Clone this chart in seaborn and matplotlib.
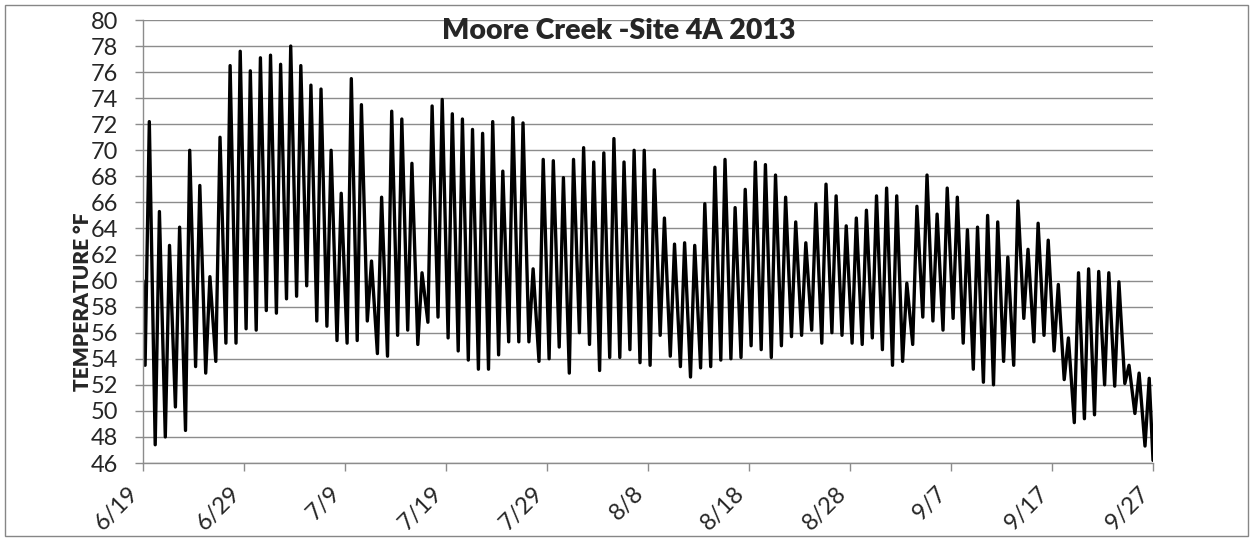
from __future__ import annotations

import matplotlib

matplotlib.use("Agg")

import matplotlib.pyplot as plt
import pandas as pd
import seaborn as sns
from matplotlib.patches import Rectangle

# Daily water temperature (deg F), Moore Creek site 4A, 6/19 - 9/26 2013
first_day = "2013-06-19"
start_temp = 60.0
end_temp = 46.2

daily_low = [
    53.5, 47.4, 48.0, 50.3, 48.5, 53.4, 52.9, 53.8, 55.2, 55.2,
    56.3, 56.2, 57.7, 57.5, 58.6, 58.8, 59.6, 56.9, 56.5, 55.4,
    55.2, 55.4, 56.9, 54.4, 54.2, 55.8, 56.2, 55.1, 56.8, 57.2,
    55.6, 54.6, 53.9, 53.2, 53.2, 54.3, 55.3, 55.3, 55.3, 53.8,
    54.0, 54.9, 52.9, 56.0, 55.1, 53.1, 54.1, 54.1, 54.7, 53.7,
    53.5, 55.8, 54.2, 53.4, 52.6, 53.3, 53.4, 53.9, 54.0, 54.1,
    55.0, 54.7, 54.1, 55.0, 55.7, 55.8, 56.2, 55.2, 56.0, 55.8,
    55.2, 55.1, 55.6, 54.7, 53.5, 53.8, 55.1, 57.2, 56.9, 56.2,
    57.1, 55.2, 53.2, 52.2, 52.0, 53.8, 53.5, 57.1, 55.3, 55.8,
    54.6, 52.4, 49.1, 49.4, 49.7, 52.0, 51.9, 52.1, 49.8, 47.3,
]
daily_high = [
    72.2, 65.3, 62.7, 64.1, 70.0, 67.3, 60.3, 71.0, 76.5, 77.6,
    76.1, 77.1, 77.3, 76.6, 78.0, 76.5, 75.0, 74.7, 70.0, 66.7,
    75.5, 73.5, 61.5, 66.4, 73.0, 72.4, 69.0, 60.6, 73.4, 73.9,
    72.8, 72.4, 71.6, 71.3, 72.2, 68.4, 72.5, 72.1, 60.9, 69.3,
    69.2, 67.9, 69.3, 70.2, 69.1, 69.8, 70.9, 69.1, 70.0, 70.0,
    68.5, 64.8, 62.8, 62.9, 62.7, 65.9, 68.7, 69.3, 65.6, 67.0,
    69.1, 68.9, 68.1, 66.4, 64.5, 62.9, 65.9, 67.4, 66.5, 64.2,
    64.8, 65.4, 66.5, 67.1, 66.5, 59.8, 65.7, 68.1, 65.1, 67.1,
    66.4, 63.9, 64.1, 65.0, 64.5, 61.8, 66.1, 62.4, 64.4, 63.1,
    59.7, 55.6, 60.6, 60.9, 60.7, 60.6, 59.9, 53.5, 52.9, 52.5,
]
low_hour = 5
high_hour = 15

y_ticks = list(range(46, 81, 2))
x_tick_labels = ["6/19", "6/29", "7/9", "7/19", "7/29", "8/8",
                 "8/18", "8/28", "9/7", "9/17", "9/27"]

days = pd.date_range(first_day, periods=len(daily_low), freq="D")
times = [days[0]]
temps = [start_temp]
for day, low, high in zip(days, daily_low, daily_high):
    times += [day + pd.Timedelta(hours=low_hour), day + pd.Timedelta(hours=high_hour)]
    temps += [low, high]
times.append(days[-1] + pd.Timedelta(days=1))
temps.append(end_temp)
readings = pd.DataFrame({"time": times, "temperature": temps})

sns.set_theme(style="white")
plt.rcParams["font.family"] = ["Lato", "DejaVu Sans"]
grid_color = "#8c8c8c"

figure = plt.figure(figsize=(12.54, 5.41), dpi=100)
axis = figure.add_axes([143 / 1254, 78 / 541, 1010 / 1254, 443 / 541])

sns.lineplot(
    data=readings,
    x="time",
    y="temperature",
    color="black",
    linewidth=2.4,
    estimator=None,
    sort=False,
    ax=axis,
)

tick_positions = pd.date_range(first_day, periods=len(x_tick_labels), freq="10D")
axis.set_xlim(tick_positions[0], tick_positions[-1])
axis.set_xticks(tick_positions)
axis.set_xticklabels(x_tick_labels, rotation=45, ha="right")
axis.set_ylim(46, 80)
axis.set_yticks(y_ticks)
axis.set_xlabel("")
axis.set_ylabel("TEMPERATURE °F", fontsize=15, fontweight="heavy")
axis.yaxis.set_label_coords(-0.0505, 0.363)

axis.grid(axis="y", color=grid_color, linewidth=1.0)
axis.set_axisbelow(True)
for side in ("top", "right"):
    axis.spines[side].set_visible(False)
for side in ("left", "bottom"):
    axis.spines[side].set_color(grid_color)
    axis.spines[side].set_linewidth(1.0)
axis.tick_params(axis="both", direction="out", length=6, width=1,
                 color=grid_color, labelsize=17, left=True, bottom=True)
axis.tick_params(axis="y", pad=12)
axis.tick_params(axis="x", pad=8)

figure.text(619 / 1254, 1 - 39 / 541, "Moore Creek -Site 4A 2013",
            ha="center", va="baseline", fontsize=20.5, fontweight="heavy")
figure.add_artist(Rectangle((5 / 1254, 5 / 541), 1243 / 1254, 531 / 541,
                            transform=figure.transFigure, fill=False,
                            edgecolor="#868686", linewidth=1.0))

figure.savefig("out.png", dpi=100)
plt.close(figure)
